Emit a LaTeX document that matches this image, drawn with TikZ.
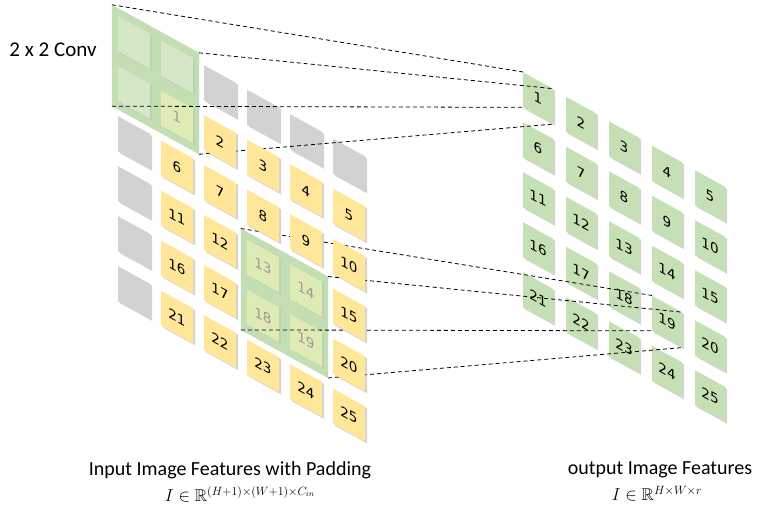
\documentclass[tikz,border=0pt]{standalone}
\usepackage{amsmath}
\usepackage{amssymb}
\usepackage{fontspec}
\setmainfont{Carlito}
\newfontfamily\tilefont{DejaVu Sans}
\usepackage{xcolor}
\usetikzlibrary{shadows}

\definecolor{tileyellow}{RGB}{255,230,153}
\definecolor{tilegreen}{RGB}{197,224,180}
\definecolor{padgray}{RGB}{210,210,210}
\definecolor{wingreen}{RGB}{190,218,172}
\definecolor{hidpad}{RGB}{213,231,200}
\definecolor{hidyellow}{RGB}{222,235,180}

\pgfdeclarelayer{back}
\pgfdeclarelayer{wires}
\pgfsetlayers{back,wires,main}

\tikzset{
  cell/.style={yslant=-0.55, minimum width=32pt, minimum height=35pt, inner sep=0pt,
    font=\tilefont\fontsize{13.5}{14}\selectfont},
  castshadow/.style={drop shadow={shadow xshift=2pt, shadow yshift=-2pt, opacity=#1}},
  castshadow/.default=0.35,
  ycell/.style={cell, castshadow, fill=tileyellow},
  pcell/.style={cell, castshadow, fill=padgray},
  gcell/.style={cell, castshadow, fill=tilegreen, minimum width=30pt},
  hcell/.style={cell, castshadow=0.12, text=black!40, fill=#1},
  convwin/.style={yslant=-0.55, minimum width=87pt, minimum height=101pt, inner sep=0pt,
    fill=wingreen, fill opacity=0.9, draw=wingreen!90!black, draw opacity=0.4},
  conn/.style={line width=0.8pt, dash pattern=on 4pt off 3pt},
  caption/.style={font=\fontsize{20}{22}\selectfont},
}

\begin{document}
\begin{tikzpicture}[x=1pt,y=-1pt]
    \useasboundingbox (0,0) rectangle (764,515);

    \begin{pgfonlayer}{back}
    % output features
    \node[gcell] (o1) at (538,98) {1};    \node[gcell] (o2) at (581,122.5) {2};  \node[gcell] (o3) at (624,147) {3};
    \node[gcell] (o4) at (667,171.5) {4}; \node[gcell] (o5) at (710,196) {5};
    \node[gcell] (o6) at (538,148) {6};   \node[gcell] (o7) at (581,172.5) {7};  \node[gcell] (o8) at (624,197) {8};
    \node[gcell] (o9) at (667,221.5) {9}; \node[gcell] (o10) at (710,246) {10};
    \node[gcell] (o11) at (538,198) {11}; \node[gcell] (o12) at (581,222.5) {12}; \node[gcell] (o13) at (624,247) {13};
    \node[gcell] (o14) at (667,271.5) {14}; \node[gcell] (o15) at (710,296) {15};
    \node[gcell] (o16) at (538,248) {16}; \node[gcell] (o17) at (581,272.5) {17}; \node[gcell] (o18) at (624,297) {18};
    \node[gcell] (o19) at (667,321.5) {19}; \node[gcell] (o20) at (710,346) {20};
    \node[gcell] (o21) at (538,298) {21}; \node[gcell] (o22) at (581,322.5) {22}; \node[gcell] (o23) at (624,347) {23};
    \node[gcell] (o24) at (667,371.5) {24}; \node[gcell] (o25) at (710,396) {25};

    % padding
    \node[pcell] (pad20) at (220,91.5) {}; \node[pcell] (pad30) at (263,116) {};
    \node[pcell] (pad40) at (306,140.5) {}; \node[pcell] (pad50) at (349,165) {};
    \node[pcell] (pad02) at (134,142.5) {}; \node[pcell] (pad03) at (134,192.5) {};
    \node[pcell] (pad04) at (134,242.5) {}; \node[pcell] (pad05) at (134,292.5) {};

    % 2x2 windows, with the cells seen through them
    \node[convwin] (win1) at (155.5,79.5) {};
    \node[convwin] (win2) at (284.5,303.25) {};
    \node[hcell=hidpad] (pad00) at (134,42.5) {};
    \node[hcell=hidpad] (pad10) at (177,67) {};
    \node[hcell=hidpad] (pad01) at (134,92.5) {};
    \node[hcell=hidyellow] (i1) at (177,117) {1};
    \node[hcell=hidyellow] (i13) at (263,266) {13}; \node[hcell=hidyellow] (i14) at (306,290.5) {14};
    \node[hcell=hidyellow] (i18) at (263,316) {18}; \node[hcell=hidyellow] (i19) at (306,340.5) {19};
    \end{pgfonlayer}

    % input features
    \node[ycell] (i2) at (220,141.5) {2}; \node[ycell] (i3) at (263,166) {3};
    \node[ycell] (i4) at (306,190.5) {4}; \node[ycell] (i5) at (349,215) {5};
    \node[ycell] (i6) at (177,167) {6};   \node[ycell] (i7) at (220,191.5) {7}; \node[ycell] (i8) at (263,216) {8};
    \node[ycell] (i9) at (306,240.5) {9}; \node[ycell] (i10) at (349,265) {10};
    \node[ycell] (i11) at (177,217) {11}; \node[ycell] (i12) at (220,241.5) {12};
    \node[ycell] (i15) at (349,315) {15};
    \node[ycell] (i16) at (177,267) {16}; \node[ycell] (i17) at (220,291.5) {17};
    \node[ycell] (i20) at (349,365) {20};
    \node[ycell] (i21) at (177,317) {21}; \node[ycell] (i22) at (220,341.5) {22}; \node[ycell] (i23) at (263,366) {23};
    \node[ycell] (i24) at (306,390.5) {24}; \node[ycell] (i25) at (349,415) {25};

    \begin{pgfonlayer}{wires}
    \draw[conn] (win1.north west) -- (o1.north west);
    \draw[conn] (win1.north east) -- (o1.north east);
    \draw[conn] (win1.south west) -- (o1.south west);
    \draw[conn] (win1.south east) -- (o1.south east);
    \draw[conn] (win2.north west) -- (o19.north west);
    \draw[conn] (win2.north east) -- (o19.north east);
    \draw[conn] (win2.south west) -- (o19.south west);
    \draw[conn] (win2.south east) -- (o19.south east);
    \end{pgfonlayer}

    \node[caption, font=\fontsize{21}{22}\selectfont] (convlbl) at (53,50) {2 x 2 Conv};
    \node[caption] (inlbl) at (230,470) {Input Image Features with Padding};
    \node[font=\fontsize{17}{20}\selectfont] (inmath) at (240,494) {$I \in \mathbb{R}^{(H+1)\times(W+1)\times C_{in}}$};
    \node[caption] (outlbl) at (660,470) {output Image Features};
    \node[font=\fontsize{17}{20}\selectfont] (outmath) at (657,494) {$I \in \mathbb{R}^{H\times W\times r}$};
\end{tikzpicture}
\end{document}
